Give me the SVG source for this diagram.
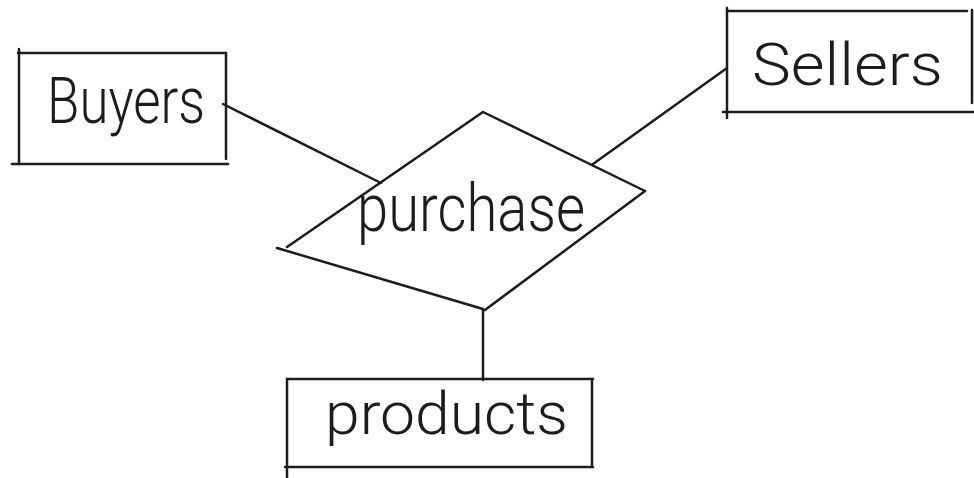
<svg xmlns="http://www.w3.org/2000/svg" width="974" height="478" viewBox="0 0 974 478">
<style>
.ln{stroke:#1c1c1c;stroke-width:2.5;fill:none;stroke-linecap:round;stroke-linejoin:round}
.lb{font-family:Roboto,"Liberation Sans","DejaVu Sans",sans-serif;font-weight:300;fill:#1c1c1c}
</style>
<rect width="974" height="478" fill="#ffffff"/>
<g id="connectors">
<line class="ln" x1="223" y1="104" x2="381" y2="183"/>
<line class="ln" x1="727" y1="68" x2="593" y2="164"/>
<line class="ln" x1="483" y1="310" x2="483" y2="380"/>
</g>
<g id="buyers">
<line class="ln" x1="18" y1="53" x2="226" y2="53"/>
<line class="ln" x1="19" y1="49" x2="19" y2="164"/>
<line class="ln" x1="12" y1="164" x2="228" y2="164"/>
<line class="ln" x1="226" y1="53" x2="226" y2="159"/>
<text class="lb" x="47" y="123" font-size="64" textLength="158" lengthAdjust="spacingAndGlyphs">Buyers</text>
</g>
<g id="sellers">
<line class="ln" x1="727" y1="11" x2="967" y2="11"/>
<line class="ln" x1="727" y1="8" x2="727" y2="118"/>
<line class="ln" x1="723" y1="112" x2="974" y2="112"/>
<line class="ln" x1="972" y1="10" x2="972" y2="103"/>
<text class="lb" x="752" y="85" font-size="60" textLength="191" lengthAdjust="spacingAndGlyphs">Sellers</text>
</g>
<g id="purchase">
<line class="ln" x1="287" y1="247" x2="483" y2="112"/>
<line class="ln" x1="483" y1="112" x2="645" y2="191"/>
<line class="ln" x1="645" y1="191" x2="485" y2="310"/>
<line class="ln" x1="483" y1="309" x2="277" y2="248"/>
<text class="lb" x="357" y="231" font-size="66" textLength="228" lengthAdjust="spacingAndGlyphs">purchase</text>
</g>
<g id="products">
<line class="ln" x1="287" y1="379" x2="593" y2="379"/>
<line class="ln" x1="287" y1="379" x2="287" y2="478"/>
<line class="ln" x1="285" y1="467" x2="593" y2="467"/>
<line class="ln" x1="592" y1="379" x2="592" y2="467"/>
<text class="lb" x="325" y="434" font-size="60" textLength="243" lengthAdjust="spacingAndGlyphs">products</text>
</g>
</svg>
